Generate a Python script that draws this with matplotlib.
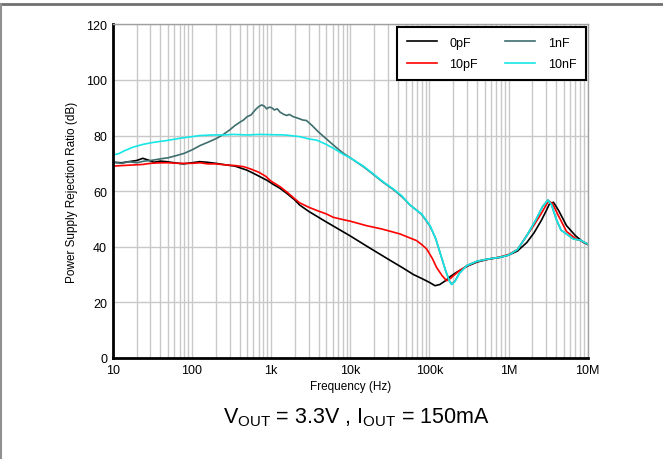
import numpy as np
import matplotlib.pyplot as plt
from matplotlib.lines import Line2D
from matplotlib.ticker import FixedLocator, LogLocator, NullFormatter

plt.rcParams['font.family'] = ['Liberation Sans', 'DejaVu Sans']
plt.rcParams['mathtext.fontset'] = 'custom'
plt.rcParams['mathtext.rm'] = 'Liberation Sans'

# 0pF
f_0p = [10, 13, 16, 20, 24, 28, 33, 40, 48, 60, 78, 100, 125, 154, 200, 275, 350, 405,
        500, 600, 725, 900, 1070, 1300, 1580, 2000, 2300, 3000, 5000, 10000, 16000,
        22000, 32000, 45000, 63000, 80000, 100000, 118000, 135000, 160000, 182000,
        220000, 300000, 400000, 550000, 780000, 1000000, 1300000, 1700000, 2100000,
        2600000, 3000000, 3300000, 3700000, 4300000, 5400000, 7000000, 8800000, 10000000]
db_0p = [70.4, 70.2, 70.6, 71.0, 71.8, 71.2, 70.4, 70.8, 70.6, 70.2, 69.8, 70.2, 70.6,
         70.4, 70.0, 69.4, 69.0, 68.4, 67.5, 66.4, 65.2, 63.8, 62.4, 61.0, 59.2, 56.8,
         55.0, 52.7, 48.9, 43.9, 40.3, 37.9, 35.1, 32.6, 30.0, 28.6, 27.2, 26.0, 26.4,
         27.8, 29.2, 30.8, 33.0, 34.5, 35.5, 36.2, 37.0, 38.5, 41.5, 45.0, 49.5, 53.0,
         55.5, 56.0, 53.0, 47.6, 44.0, 41.6, 40.8]

# 10pF
f_10p = [10, 13, 18, 24, 30, 40, 50, 70, 100, 127, 160, 200, 275, 350, 450, 550, 700,
         850, 1000, 1300, 1600, 2000, 2300, 3000, 4000, 5000, 6100, 8000, 10000, 16000,
         25000, 42600, 69000, 80000, 92500, 110000, 123000, 145000, 165000, 185000,
         200000, 240000, 300000, 400000, 500000, 780000, 1000000, 1300000, 1700000,
         2100000, 2600000, 3200000, 3600000, 4300000, 5400000, 7000000, 10000000]
db_10p = [69.0, 69.2, 69.4, 69.6, 70.0, 70.2, 70.2, 70.0, 70.0, 70.2, 69.8, 69.8, 69.4,
          69.2, 68.8, 68.0, 66.8, 65.4, 63.6, 61.6, 59.6, 57.2, 55.8, 54.2, 52.8, 51.8,
          50.6, 49.8, 49.2, 47.6, 46.4, 44.6, 42.2, 40.8, 39.2, 35.6, 32.6, 29.6, 27.8,
          28.6, 29.5, 31.4, 33.2, 34.7, 35.3, 36.3, 37.2, 39.0, 44.0, 47.8, 52.0, 56.5,
          55.5, 51.0, 45.5, 43.0, 41.0]

# 1nF
f_1n = [10, 13, 16, 20, 25, 30, 40, 50, 64, 80, 100, 127, 160, 206, 250, 300, 350, 405,
        450, 500, 560, 597, 650, 700, 762, 820, 881, 950, 1020, 1100, 1200, 1300, 1450,
        1580, 1700, 1900, 2200, 2500, 2800, 3300, 4000, 5000, 6000, 7000, 8200, 10000,
        15000, 20000, 26000, 35000, 45000, 57000, 70000, 80000, 90000, 102000, 120000,
        136000, 160000, 180000, 191000, 210000, 240000, 296000, 400000, 550000, 780000,
        1000000, 1300000, 1700000, 2200000, 2700000, 3150000, 3500000, 4000000, 4600000,
        5400000, 6600000, 8000000, 10000000]
db_1n = [70.4, 70.0, 70.6, 70.2, 70.8, 71.0, 71.6, 72.0, 72.8, 73.6, 74.8, 76.4, 77.6,
         79.0, 80.4, 82.0, 83.6, 84.8, 85.6, 86.8, 87.4, 88.4, 89.6, 90.4, 91.0, 90.6,
         89.6, 90.2, 90.0, 89.2, 89.6, 88.4, 87.6, 87.2, 87.6, 86.8, 86.2, 85.6, 85.4,
         83.6, 81.2, 78.8, 76.8, 75.2, 73.6, 72.0, 68.6, 65.8, 63.2, 60.6, 58.0, 55.0,
         53.0, 51.6, 49.6, 47.4, 43.0, 38.0, 31.5, 27.6, 26.6, 27.6, 30.5, 33.2, 34.8,
         35.6, 36.2, 37.0, 39.0, 44.0, 49.5, 54.5, 56.8, 55.0, 50.0, 46.0, 44.6, 42.8,
         42.4, 41.0]

# 10nF
f_10n = [10, 12, 14, 18, 24, 32, 48, 70, 100, 127, 180, 250, 334, 500, 725, 1000, 1500,
         2300, 3000, 3800, 5000, 6500, 8200, 10000, 15000, 20000, 26000, 35000, 45000,
         57000, 70000, 80000, 90000, 102000, 120000, 136000, 160000, 180000, 191000,
         210000, 240000, 296000, 400000, 550000, 780000, 1000000, 1300000, 1700000,
         2200000, 2700000, 3150000, 3500000, 4000000, 4600000, 5400000, 6600000, 8000000,
         10000000]
db_10n = [73.0, 73.5, 74.5, 75.8, 76.8, 77.5, 78.2, 79.0, 79.6, 80.0, 80.2, 80.2, 80.4,
          80.2, 80.4, 80.3, 80.2, 79.6, 78.8, 78.3, 76.8, 75.0, 73.2, 72.0, 68.8, 66.0,
          63.4, 60.8, 58.3, 55.0, 53.0, 51.8, 49.8, 47.6, 43.0, 38.0, 31.5, 27.5, 26.4,
          27.5, 30.5, 33.2, 34.8, 35.6, 36.2, 37.0, 39.0, 44.0, 49.5, 54.5, 56.8, 55.0,
          50.0, 46.0, 44.6, 42.8, 42.4, 41.0]

labels = ["0pF", "10pF", "1nF", "10nF"]
colors = ["black", "#ff0000", "#3f6e6e", "#16e6e6"]


def main():
    fig = plt.figure(figsize=(6.63, 4.6), dpi=100)
    ax = fig.add_axes([0.170, 0.2196, 0.7164, 0.7254])

    series = [(f_0p, db_0p), (f_10p, db_10p), (f_1n, db_1n), (f_10n, db_10n)]
    for (f, db), lab, c in zip(series, labels, colors):
        ax.plot(f, db, color=c, lw=1.2, label=lab)

    ax.set_xscale('log')
    ax.set_xlim(10, 1e7)
    ax.set_ylim(0, 120)
    ax.xaxis.set_major_locator(FixedLocator([10, 100, 1e3, 1e4, 1e5, 1e6, 1e7]))
    ax.set_xticklabels(["10", "100", "1k", "10k", "100k", "1M", "10M"])
    ax.xaxis.set_minor_locator(LogLocator(base=10, subs=np.arange(2, 10)))
    ax.xaxis.set_minor_formatter(NullFormatter())
    ax.set_yticks(np.arange(0, 121, 20))

    ax.grid(True, which='major', color='#c8c8c8', lw=1)
    ax.grid(True, which='minor', axis='x', color='#c8c8c8', lw=1)
    ax.tick_params(which='both', length=0, labelsize=9, pad=4)

    for s in ['left', 'bottom']:
        ax.spines[s].set_color('black')
        ax.spines[s].set_linewidth(2)
    for s in ['top', 'right']:
        ax.spines[s].set_color('#a0a0a0')
        ax.spines[s].set_linewidth(1)

    ax.set_xlabel("Frequency (Hz)", fontsize=8.5, labelpad=3)
    ax.set_ylabel("Power Supply Rejection Ratio (dB)", fontsize=8.5, labelpad=6)

    leg = ax.legend(ncol=2, loc='upper right', bbox_to_anchor=(0.997, 0.993),
                    borderaxespad=0.0,
                    fontsize=9, handlelength=2.4, handletextpad=1.0,
                    columnspacing=2.2, labelspacing=0.75, fancybox=False,
                    framealpha=1, borderpad=0.8)
    leg.get_frame().set_edgecolor('black')
    leg.get_frame().set_linewidth(1.5)

    fig.text(0.537, 0.092, r"V$_{\mathrm{OUT}}$ = 3.3V , I$_{\mathrm{OUT}}$ = 150mA",
             fontsize=15.5, ha='center', va='center')

    fig.add_artist(Line2D([0, 1], [1 - 5 / 460, 1 - 5 / 460], color='#707070', lw=2))
    fig.add_artist(Line2D([0.0015, 0.0015], [0, 1 - 5 / 460], color='#909090', lw=1.5))

    fig.savefig("out.png", dpi=100)


if __name__ == '__main__':
    main()
